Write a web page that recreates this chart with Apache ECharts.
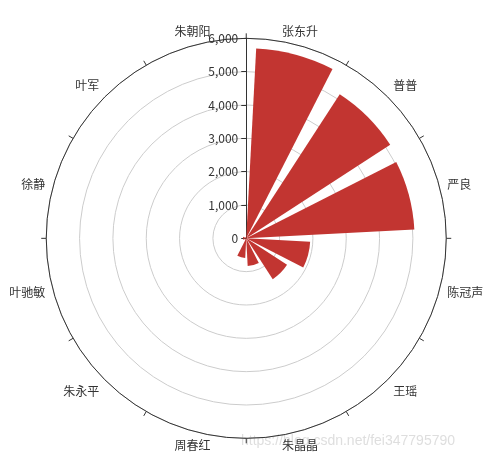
<!DOCTYPE html>
<html>
<head>
<meta charset="utf-8">
<script src="https://cdn.jsdelivr.net/npm/echarts@6/dist/echarts.min.js"></script>
<style>html,body{margin:0;padding:0;background:#fff;}#main{width:491px;height:461px;}</style>
</head>
<body>
<div id="main"></div>
<script>
var categories = ['张东升', '普普', '严良', '陈冠声', '王瑶', '朱晶晶', '周春红', '朱永平', '叶驰敏', '徐静', '叶军', '朱朝阳'];
var values = [5700, 5150, 5050, 1920, 1460, 830, 590, 60, 100, 100, 50, 30];
var radiusMax = 6000;
var radiusInterval = 1000;

var chart = echarts.init(document.getElementById('main'));
chart.setOption({
  animation: false,
  polar: {
    center: ['50.15%', '51.7%'],
    radius: 200
  },
  angleAxis: {
    type: 'category',
    data: categories,
    startAngle: 90,
    axisLine: { lineStyle: { color: '#333' } },
    axisTick: { lineStyle: { color: '#333' } },
    axisLabel: { color: '#333', fontSize: 12, fontFamily: 'Noto Sans CJK SC' },
    splitLine: { show: false }
  },
  radiusAxis: {
    type: 'value',
    min: 0,
    max: radiusMax,
    interval: radiusInterval,
    axisLine: { show: true, lineStyle: { color: '#333' } },
    axisTick: { show: true, lineStyle: { color: '#333' } },
    axisLabel: {
      color: '#333', fontSize: 12, fontFamily: 'Noto Sans CJK SC',
      formatter: function (v) { return v.toLocaleString('en-US'); }
    },
    splitLine: { show: true, lineStyle: { color: '#ccc' } }
  },
  graphic: [{
    type: 'text',
    left: 241,
    top: 434,
    silent: true,
    style: {
      text: 'https://blog.csdn.net/fei347795790',
      fill: 'rgba(200,200,200,0.6)',
      font: '14px Arial, "Liberation Sans", sans-serif'
    }
  }],
  series: [{
    type: 'bar',
    coordinateSystem: 'polar',
    data: values,
    itemStyle: { color: '#c23531' },
    barCategoryGap: '20%'
  }]
});
</script>
</body>
</html>
